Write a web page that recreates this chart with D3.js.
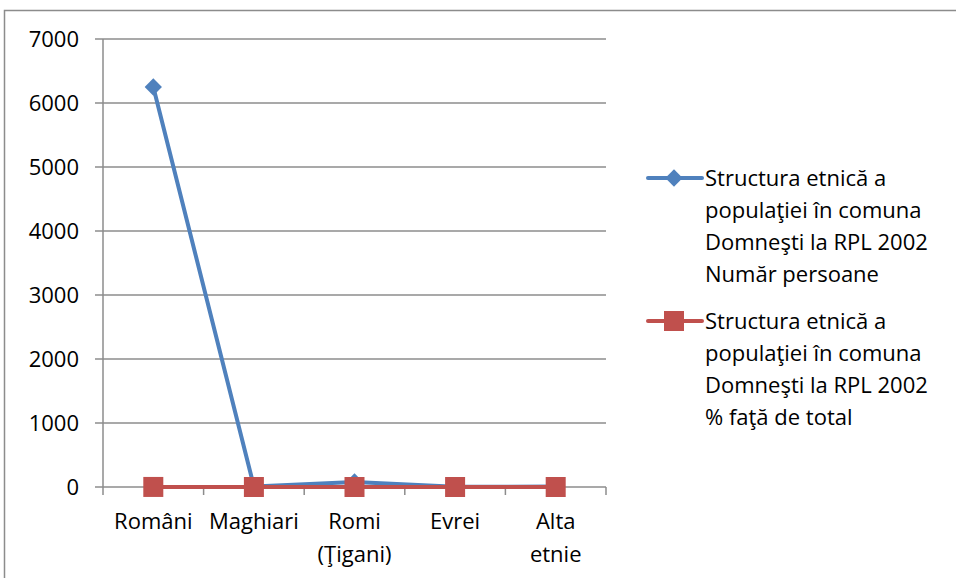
<!DOCTYPE html>
<html>
<head>
<meta charset="utf-8">
<script src="https://cdn.jsdelivr.net/npm/d3@7"></script>
<style>
  body { margin: 0; background: #fff; }
  text { font-family: "Open Sans", "Noto Sans", sans-serif; fill: #000; }
</style>
</head>
<body>
<div id="graph"></div>
<script>
// categories and series
var categories = ["Români", "Maghiari", "Romi (Ţigani)", "Evrei", "Alta etnie"];
var catLines = [["Români"], ["Maghiari"], ["Romi", "(Ţigani)"], ["Evrei"], ["Alta", "etnie"]];
var numberPersons = [6250, 8, 80, 2, 6];
var percentOfTotal = [0.983, 0.001, 0.013, 0.0003, 0.001]; // stored as fractions, so it sits on 0
var yTicks = [0, 1000, 2000, 3000, 4000, 5000, 6000, 7000];
var seriesNames = [
    ["Structura etnică a", "populaţiei în comuna", "Domneşti la RPL 2002", "Număr persoane"],
    ["Structura etnică a", "populaţiei în comuna", "Domneşti la RPL 2002", "% faţă de total"]
];

var width = 956, height = 578;
var fontSize = 22;

var svg = d3.select('#graph')
    .append('svg')
    .attr('width', width)
    .attr('height', height);

// outer chart border
svg.append("rect")
    .attr("x", 4.5).attr("y", 10.5)
    .attr("width", 960).attr("height", 600)
    .attr("fill", "#fff")
    .attr("stroke", "#8c8c8c")
    .attr("stroke-width", 1.5);

var plotLeft = 103, plotRight = 606, plotTop = 39, plotBottom = 487;

var x = d3.scaleBand()
    .domain(categories)
    .range([plotLeft, plotRight]);

var y = d3.scaleLinear()
    .domain([0, 7000])
    .range([plotBottom, plotTop]);

// gridlines
svg.append("g").selectAll("line")
    .data(yTicks).enter()
    .append("line")
    .attr("x1", plotLeft - 8).attr("x2", plotRight)
    .attr("y1", d => y(d)).attr("y2", d => y(d))
    .attr("stroke", "#8c8c8c")
    .attr("stroke-width", 1.5);

// y axis line
svg.append("line")
    .attr("x1", plotLeft).attr("x2", plotLeft)
    .attr("y1", plotTop).attr("y2", plotBottom)
    .attr("stroke", "#8c8c8c").attr("stroke-width", 1.5);

// y tick labels
svg.append("g").selectAll("text")
    .data(yTicks).enter()
    .append("text")
    .attr("x", 79)
    .attr("y", d => y(d))
    .attr("dy", "0.35em")
    .attr("text-anchor", "end")
    .style("font-size", fontSize + "px")
    .text(d => d);

// x tick marks at category boundaries
var bounds = categories.map(c => x(c)).concat([plotRight]);
svg.append("g").selectAll("line")
    .data(bounds).enter()
    .append("line")
    .attr("x1", d => d).attr("x2", d => d)
    .attr("y1", plotBottom).attr("y2", plotBottom + 8)
    .attr("stroke", "#8c8c8c").attr("stroke-width", 1.5);

// x labels
var xl = svg.append("g").selectAll("text")
    .data(categories).enter()
    .append("text")
    .attr("text-anchor", "middle")
    .attr("x", d => x(d) + x.bandwidth() / 2)
    .attr("y", 521)
    .style("font-size", fontSize + "px");
xl.selectAll("tspan")
    .data((d, i) => catLines[i]).enter()
    .append("tspan")
    .attr("x", function() { return this.parentNode.getAttribute("x"); })
    .attr("dy", (d, i) => i === 0 ? "0.35em" : "33px")
    .text(d => d);

var cx = d => x(d) + x.bandwidth() / 2;
var blue = "#4F81BD", red = "#C0504D";

var line = d3.line()
    .x((d, i) => cx(categories[i]))
    .y(d => y(d));

var diamond = d3.symbol().type(d3.symbolDiamond2).size(190);

// blue series
svg.append("path")
    .datum(numberPersons)
    .attr("d", line)
    .attr("fill", "none")
    .attr("stroke", blue)
    .attr("stroke-width", 4)
    .attr("stroke-linejoin", "round");
svg.append("g").selectAll("path")
    .data(numberPersons).enter()
    .append("path")
    .attr("d", diamond)
    .attr("transform", (d, i) => "translate(" + cx(categories[i]) + "," + y(d) + ")")
    .attr("fill", blue);

// red series
svg.append("path")
    .datum(percentOfTotal)
    .attr("d", line)
    .attr("fill", "none")
    .attr("stroke", red)
    .attr("stroke-width", 4);
svg.append("g").selectAll("rect")
    .data(percentOfTotal).enter()
    .append("rect")
    .attr("x", (d, i) => cx(categories[i]) - 10)
    .attr("y", d => y(d) - 10)
    .attr("width", 20).attr("height", 20)
    .attr("fill", red);

// legend
var legY = [178, 321];
var colors = [blue, red];
var leg = svg.append("g").selectAll("g")
    .data(seriesNames).enter()
    .append("g")
    .attr("transform", (d, i) => "translate(0," + legY[i] + ")");
leg.append("line")
    .attr("x1", 648).attr("x2", 702)
    .attr("stroke", (d, i) => colors[i])
    .attr("stroke-width", 4)
    .attr("stroke-linecap", "round");
leg.filter((d, i) => i === 0).append("path")
    .attr("d", diamond)
    .attr("transform", "translate(674,0)")
    .attr("fill", blue);
leg.filter((d, i) => i === 1).append("rect")
    .attr("x", 664).attr("y", -10)
    .attr("width", 20).attr("height", 20)
    .attr("fill", red);
leg.append("text")
    .attr("x", 705)
    .style("font-size", fontSize + "px")
    .selectAll("tspan")
    .data(d => d).enter()
    .append("tspan")
    .attr("x", 705)
    .attr("y", (d, i) => i * 32)
    .attr("dy", "0.35em")
    .text(d => d);
</script>
</body>
</html>
